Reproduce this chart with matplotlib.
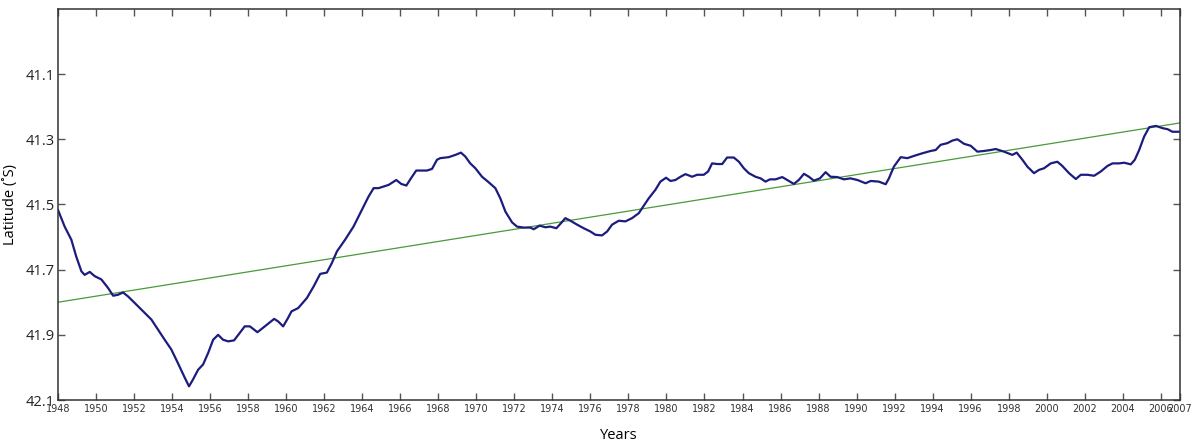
import numpy as np
import matplotlib
matplotlib.use("Agg")
import matplotlib.pyplot as plt

# mean latitude of the front, smoothed series
years = [
    1948.0, 1948.35, 1948.7, 1948.96, 1949.23, 1949.4, 1949.67, 1949.93, 1950.28, 1950.63,
    1950.9, 1951.16, 1951.42, 1951.68, 1952.03, 1952.56, 1952.91, 1953.26, 1953.61, 1953.96,
    1954.3, 1954.67, 1954.89, 1955.1, 1955.37, 1955.63, 1955.9, 1956.16, 1956.42, 1956.68,
    1956.95, 1957.26, 1957.56, 1957.82, 1958.09, 1958.49, 1958.88, 1959.37, 1959.58, 1959.84,
    1960.1, 1960.28, 1960.63, 1961.09, 1961.44, 1961.79, 1962.14, 1962.4, 1962.67, 1963.1,
    1963.54, 1963.98, 1964.33, 1964.6, 1964.86, 1965.39, 1965.79, 1966.05, 1966.32, 1966.56,
    1966.84, 1967.14, 1967.4, 1967.67, 1967.93, 1968.1, 1968.54, 1968.9, 1969.19, 1969.42,
    1969.68, 1969.95, 1970.3, 1970.65, 1971.0, 1971.26, 1971.53, 1971.88, 1972.14, 1972.49,
    1972.84, 1973.02, 1973.33, 1973.63, 1973.89, 1974.21, 1974.46, 1974.68, 1974.95, 1975.3,
    1975.65, 1976.0, 1976.26, 1976.61, 1976.88, 1977.14, 1977.49, 1977.84, 1978.19, 1978.54,
    1978.84, 1979.07, 1979.42, 1979.68, 1979.98, 1980.21, 1980.47, 1980.74, 1981.0, 1981.35,
    1981.61, 1981.96, 1982.19, 1982.4, 1982.67, 1982.93, 1983.19, 1983.54, 1983.81, 1984.07,
    1984.33, 1984.68, 1984.95, 1985.21, 1985.44, 1985.74, 1986.09, 1986.35, 1986.7, 1986.96,
    1987.23, 1987.49, 1987.75, 1988.07, 1988.37, 1988.63, 1988.98, 1989.33, 1989.68, 1990.04,
    1990.47, 1990.74, 1991.17, 1991.53, 1991.7, 1991.96, 1992.32, 1992.67, 1993.02, 1993.46,
    1993.89, 1994.16, 1994.42, 1994.77, 1995.04, 1995.3, 1995.65, 1996.0, 1996.35, 1996.7,
    1997.05, 1997.32, 1997.75, 1998.19, 1998.42, 1998.72, 1998.98, 1999.33, 1999.59, 1999.86,
    2000.21, 2000.56, 2000.82, 2001.17, 2001.53, 2001.79, 2002.14, 2002.49, 2002.84, 2003.19,
    2003.46, 2003.81, 2004.07, 2004.42, 2004.63, 2004.86, 2005.12, 2005.39, 2005.74, 2006.09,
    2006.35, 2006.61, 2006.96,
]
latitude = [
    41.517, 41.568, 41.608, 41.660, 41.705, 41.716, 41.707, 41.720, 41.730, 41.756,
    41.780, 41.777, 41.770, 41.782, 41.802, 41.833, 41.853, 41.884, 41.915, 41.945,
    41.986, 42.032, 42.058, 42.037, 42.007, 41.991, 41.955, 41.915, 41.900, 41.915,
    41.920, 41.917, 41.894, 41.874, 41.874, 41.892, 41.874, 41.851, 41.859, 41.874,
    41.848, 41.828, 41.818, 41.787, 41.752, 41.713, 41.709, 41.680, 41.644, 41.608,
    41.568, 41.517, 41.476, 41.450, 41.450, 41.440, 41.425, 41.437, 41.442, 41.420,
    41.396, 41.396, 41.396, 41.391, 41.363, 41.358, 41.355, 41.348, 41.341, 41.353,
    41.374, 41.389, 41.415, 41.432, 41.450, 41.481, 41.522, 41.555, 41.568, 41.571,
    41.571, 41.576, 41.565, 41.570, 41.568, 41.573, 41.557, 41.542, 41.550, 41.562,
    41.573, 41.583, 41.593, 41.595, 41.583, 41.562, 41.550, 41.552, 41.542, 41.527,
    41.501, 41.481, 41.455, 41.430, 41.418, 41.428, 41.425, 41.415, 41.407, 41.415,
    41.409, 41.409, 41.399, 41.374, 41.376, 41.376, 41.356, 41.356, 41.369, 41.389,
    41.404, 41.415, 41.420, 41.430, 41.423, 41.423, 41.416, 41.425, 41.437, 41.425,
    41.406, 41.415, 41.427, 41.420, 41.401, 41.415, 41.416, 41.423, 41.420, 41.425,
    41.435, 41.428, 41.430, 41.438, 41.420, 41.384, 41.355, 41.358, 41.351, 41.343,
    41.336, 41.333, 41.317, 41.312, 41.304, 41.300, 41.314, 41.320, 41.338, 41.336,
    41.333, 41.330, 41.338, 41.348, 41.341, 41.363, 41.384, 41.404, 41.394, 41.389,
    41.374, 41.369, 41.382, 41.404, 41.422, 41.409, 41.409, 41.412, 41.399, 41.382,
    41.374, 41.374, 41.372, 41.377, 41.363, 41.333, 41.292, 41.263, 41.259, 41.266,
    41.269, 41.277, 41.277,
]

# linear trend end points
trend_years = [1948, 2007]
trend_lat = [41.80, 41.25]

xticks = list(range(1948, 2007, 2)) + [2007]
yticks = [41.1, 41.3, 41.5, 41.7, 41.9, 42.1]

fig = plt.figure(figsize=(11.96, 4.43), dpi=100)
ax = fig.add_axes([0.0485, 0.097, 0.938, 0.883])

ax.plot(trend_years, trend_lat, color="#4a9a3a", lw=0.9)
ax.plot(years, latitude, color="#1c1c7e", lw=1.6)

ax.set_xlim(1948, 2007)
ax.set_ylim(42.1, 40.9)

ax.set_xticks(xticks)
ax.set_xticklabels([str(t) for t in xticks], fontsize=7, family="DejaVu Sans",
                   color="#333333")
ax.set_yticks(yticks)
ax.set_yticklabels([f"{t:.1f}" for t in yticks], fontsize=10.5, family="Open Sans",
                   color="#222222")

ax.tick_params(direction="in", length=5, width=1, color="#555555",
               top=True, right=True, pad=3)
ax.tick_params(axis="y", pad=2)
for s in ax.spines.values():
    s.set_color("#333333")
    s.set_linewidth(1.1)

ax.set_xlabel("Years", fontsize=10.5, family="Open Sans", labelpad=10)
ax.set_ylabel("Latitude (˚S)", fontsize=10.5, family="Open Sans", labelpad=6)

fig.savefig("out.png", dpi=100)
